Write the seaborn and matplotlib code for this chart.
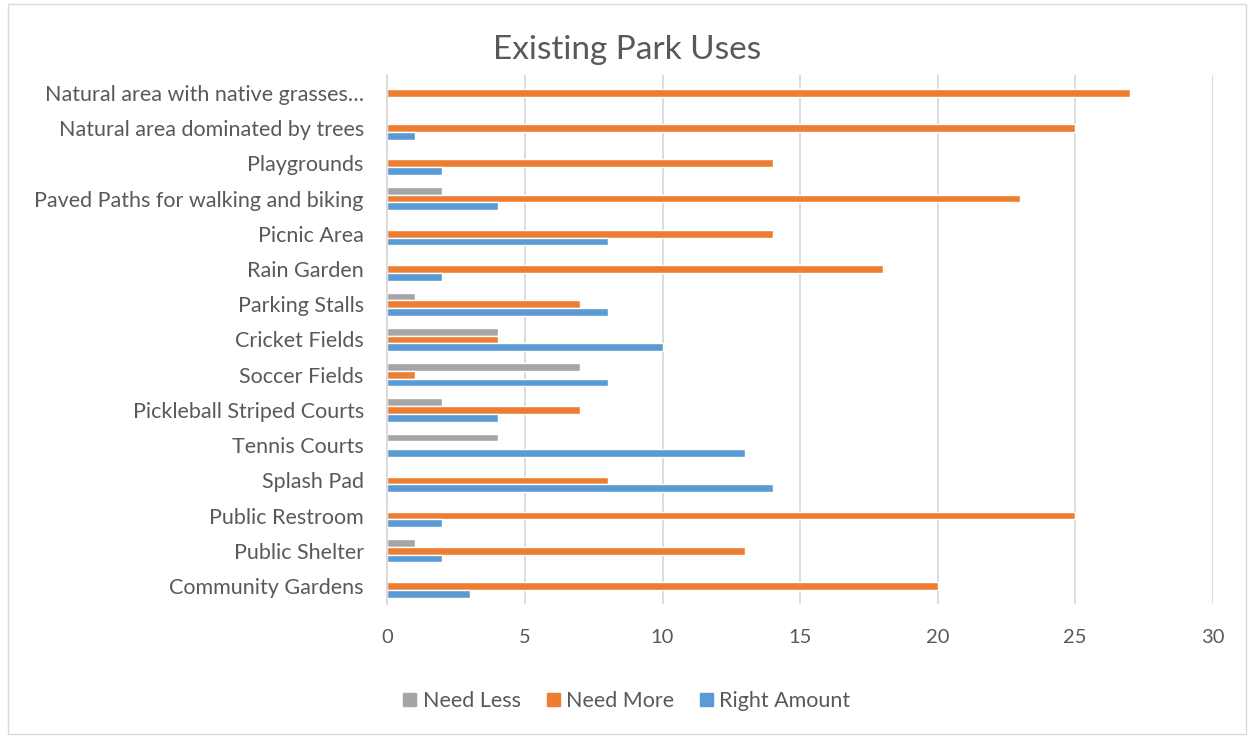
import matplotlib
matplotlib.use('Agg')
import matplotlib.pyplot as plt
import seaborn as sns
import pandas as pd
from matplotlib.patches import Rectangle

# ── Data (top to bottom as shown) ─────────────────────────────────────────────
categories = [
    "Natural area with native grasses…",
    "Natural area dominated by trees",
    "Playgrounds",
    "Paved Paths for walking and biking",
    "Picnic Area",
    "Rain Garden",
    "Parking Stalls",
    "Cricket Fields",
    "Soccer Fields",
    "Pickleball Striped Courts",
    "Tennis Courts",
    "Splash Pad",
    "Public Restroom",
    "Public Shelter",
    "Community Gardens",
]
need_less    = [0, 0, 0, 2, 0, 0, 1, 4, 7, 2, 4, 0, 0, 1, 0]
need_more    = [27, 25, 14, 23, 14, 18, 7, 4, 1, 7, 0, 8, 25, 13, 20]
right_amount = [0, 1, 2, 4, 8, 2, 8, 10, 8, 4, 13, 14, 2, 2, 3]

series = ["Need Less", "Need More", "Right Amount"]
palette = {"Need Less": "#A5A5A5", "Need More": "#ED7D31", "Right Amount": "#5B9BD5"}

df = pd.DataFrame({
    "Use": categories * 3,
    "Response": ["Need Less"] * 15 + ["Need More"] * 15 + ["Right Amount"] * 15,
    "Count": need_less + need_more + right_amount,
})

# ── Plot ──────────────────────────────────────────────────────────────────────
sns.set_style("white")
plt.rcParams['font.family'] = ['Lato', 'DejaVu Sans']
text_col = "#595959"

fig = plt.figure(figsize=(12.54, 7.38), dpi=100)
ax = fig.add_axes([0.309, 0.182, 0.658, 0.716])

sns.barplot(data=df, y="Use", x="Count", hue="Response", order=categories,
            hue_order=series, palette=palette, orient="h", width=0.66,
            saturation=1, ax=ax, legend=True)

ax.set_xlim(0, 30)
ax.set_xticks(range(0, 31, 5))
ax.xaxis.grid(True, color="#D9D9D9", linewidth=1.3)
ax.set_axisbelow(True)
for s in ["top", "right", "bottom"]:
    ax.spines[s].set_visible(False)
ax.spines["left"].set_color("#D9D9D9")
ax.spines["left"].set_linewidth(1.3)
ax.tick_params(axis="x", length=0, pad=18, labelsize=14.5, labelcolor=text_col)
ax.tick_params(axis="y", length=0, pad=17, labelsize=15.5, labelcolor=text_col)
ax.set_xlabel("")
ax.set_ylabel("")

fig.text(0.5, 0.932, "Existing Park Uses", ha="center", va="center",
         fontsize=24, color=text_col)

ax.get_legend().remove()
handles = [Rectangle((0, 0), 1, 1, color=palette[s]) for s in series]
fig.legend(handles, series, loc="center", bbox_to_anchor=(0.5, 0.05), ncol=3,
           frameon=False, fontsize=15.5, labelcolor=text_col, handlelength=0.6,
           handleheight=0.6, handletextpad=0.3, columnspacing=1.2)

fig.patches.append(Rectangle((0.006, 0.006), 0.988, 0.988, transform=fig.transFigure,
                             fill=False, edgecolor="#D9D9D9", linewidth=1))

plt.savefig("out.png", dpi=100)
plt.close()
